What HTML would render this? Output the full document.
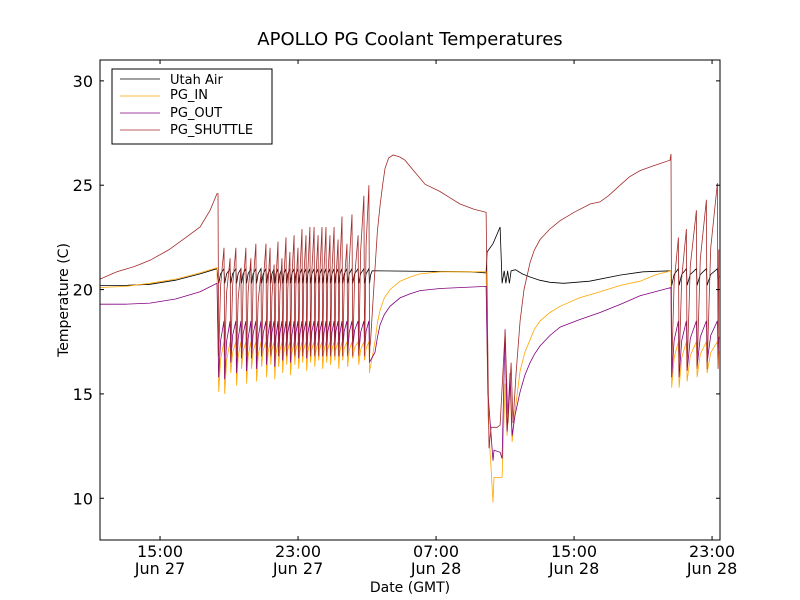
<!DOCTYPE html>
<html><head><meta charset="utf-8"><style>
body{margin:0;background:#fff;}
svg{display:block;font-family:"DejaVu Sans","Liberation Sans",sans-serif;}
</style></head><body>
<svg id="chart" width="800" height="600" viewBox="0 0 800 600" xmlns="http://www.w3.org/2000/svg">
<rect x="0" y="0" width="800" height="600" fill="#fff"/>
<text x="410" y="45" text-anchor="middle" font-size="18">APOLLO PG Coolant Temperatures</text>
<text x="410" y="592" text-anchor="middle" font-size="14">Date (GMT)</text>
<text transform="translate(68,300) rotate(-90)" text-anchor="middle" font-size="14">Temperature (C)</text>
<g id="series"></g>
<rect x="100" y="60" width="620" height="480" fill="none" stroke="#000" stroke-width="1"/>
<g id="ticks"></g>
<g>
<rect x="112" y="69" width="160" height="75" fill="#fff" stroke="#000" stroke-width="1"/>
<line x1="120" y1="79" x2="160" y2="79" stroke="#000" stroke-width="0.8"/>
<text x="170" y="84" font-size="13">Utah Air</text>
<line x1="120" y1="96" x2="160" y2="96" stroke="#FFA500" stroke-width="0.8"/>
<text x="170" y="99" font-size="13">PG_IN</text>
<line x1="120" y1="113" x2="160" y2="113" stroke="#800080" stroke-width="0.8"/>
<text x="170" y="117" font-size="13">PG_OUT</text>
<line x1="120" y1="130" x2="160" y2="130" stroke="#A52A2A" stroke-width="0.8"/>
<text x="170" y="134" font-size="13">PG_SHUTTLE</text>
</g>
</svg>
<script>
// axis ticks (hours since Jun 27 00:00 GMT)
const xTicks = [15, 23, 31, 39, 47];
const xTickTimes = ["15:00","23:00","07:00","15:00","23:00"];
const xTickDates = ["Jun 27","Jun 27","Jun 28","Jun 28","Jun 28"];
const yTicks = [10, 15, 20, 25, 30];

// Cycle region 1
const cyc1Times = [18.36,18.71,19.06,19.40,19.69,19.98,20.27,20.56,20.85,21.14,21.38,21.61,21.84,22.07,22.30,22.53,22.77,23.00,23.23,23.46,23.69,23.93,24.16,24.39,24.62,24.85,25.09,25.32,25.55,25.84,26.13,26.48,26.82,27.11];
const shuttlePeaks1 = [24.6,22.0,21.5,22.0,21.0,22.0,21.5,22.2,20.8,22.2,22.0,21.2,22.3,21.5,22.5,21.8,22.6,22.0,22.9,22.6,23.0,23.0,22.6,23.0,23.0,22.6,23.0,22.4,23.5,22.2,23.6,22.6,24.5,25.0];
const inTroughs1 = [15.1,15.0,16.0,15.4,16.2,15.5,16.2,15.6,16.3,15.8,16.4,15.7,16.3,16.0,16.4,15.9,16.4,16.2,16.5,16.1,16.5,16.3,16.6,16.2,16.5,16.4,16.6,16.2,16.6,16.3,16.7,16.4,16.6,16.0];
const outTroughs1 = [15.8,15.7,16.5,16.0,16.7,16.1,16.7,16.2,16.8,16.4,16.9,16.3,16.8,16.6,16.9,16.5,16.9,16.7,17.0,16.7,17.0,16.9,17.1,16.8,17.0,16.9,17.1,16.8,17.1,16.9,17.2,16.9,17.1,16.5];
// Cycle region 2
const cyc2Times = [44.62,45.05,45.51,46.09,46.67,47.31];
const shuttlePeaks2 = [26.5,22.5,22.9,23.8,24.3,25.1];
const inTroughs2 = [15.3,15.3,15.6,15.8,16.0,16.2];
const outTroughs2 = [15.8,15.8,16.1,16.3,16.5,16.7];

// Smooth segments
const utahA_t=[11.52,13.0,14.42,15.9,17.32,18.30], utahA_v=[20.2,20.2,20.25,20.45,20.75,21.0];
const utahB_t=[27.3,33.0,33.90,33.96,34.3,34.71,34.83,34.95,35.05,35.15,35.25,35.35,35.6,36.0,36.45,37.0,37.6,38.4,39.9,41.7,43.0,44.62];
const utahB_v=[20.9,20.85,20.8,21.8,22.2,23.0,20.3,20.9,20.3,20.9,20.3,20.9,20.95,20.75,20.6,20.45,20.35,20.3,20.4,20.7,20.85,20.9];
const inA_t=[11.52,13.0,14.42,15.9,17.32,18.30], inA_v=[20.1,20.15,20.3,20.5,20.8,21.05];
const inB_t=[27.2,27.46,27.6,27.75,28.0,28.33,28.91,29.5,30.07,31.23,33.90,34.01,34.30,34.36,34.83,35.00,35.12,35.29,35.41,35.58,35.87,36.15,36.45,36.7,37.03,37.6,38.19,39.3,40.51,41.7,42.83,43.7,44.62];
const inB_v=[16.3,17.5,18.4,19.0,19.6,20.0,20.4,20.6,20.75,20.85,20.85,14.0,9.8,11.0,11.0,15.5,13.0,15.5,12.7,14.2,16.1,17.0,17.6,18.1,18.5,18.9,19.2,19.6,19.9,20.2,20.4,20.7,20.9];
const outA_t=[11.52,13.0,14.42,15.9,17.32,18.30], outA_v=[19.3,19.3,19.35,19.55,19.9,20.3];
const outB_t=[27.2,27.46,27.6,27.75,28.0,28.33,28.91,29.5,30.07,31.23,33.90,34.01,34.30,34.36,34.71,34.83,35.00,35.12,35.29,35.41,35.58,35.87,36.15,36.45,36.7,37.03,37.6,38.19,39.3,40.51,41.7,42.83,43.7,44.62];
const outB_v=[16.6,17.0,17.7,18.3,18.8,19.2,19.6,19.8,19.95,20.05,20.15,15.0,11.8,12.3,12.2,11.9,18.1,13.2,16.0,13.0,14.0,15.1,15.9,16.5,16.9,17.3,17.8,18.2,18.55,18.9,19.3,19.7,19.9,20.1];
const shutA_t=[11.52,12.5,13.5,14.42,15.5,16.5,17.32,17.9,18.30], shutA_v=[20.5,20.85,21.1,21.4,21.9,22.5,23.0,23.8,24.6];
const shutB_t=[27.2,27.46,27.6,27.75,27.9,28.04,28.25,28.51,28.9,29.2,29.7,30.36,31.23,31.8,32.39,33.2,33.90,33.96,34.07,34.19,34.54,34.71,35.00,35.17,35.35,35.46,35.64,35.87,36.1,36.45,36.7,37.03,37.6,38.19,39.0,39.93,40.5,41.0,41.67,42.2,42.83,43.5,44.56];
const shutB_v=[17.5,21.0,22.8,24.0,25.0,25.8,26.3,26.45,26.35,26.2,25.7,25.05,24.7,24.4,24.1,23.85,23.7,20.0,12.4,13.4,13.4,13.5,18.0,13.6,16.5,13.6,16.0,18.5,20.0,21.3,21.9,22.4,22.9,23.3,23.7,24.1,24.2,24.5,25.0,25.4,25.7,25.9,26.2];

const X0=11.52,X1=47.46,Y0=8,Y1=31;
function xs(h){return 100+(h-X0)/(X1-X0)*620;}
function ys(v){return 540-(v-Y0)/(Y1-Y0)*480;}

function seg(ts,vs){return ts.map((t,i)=>[t,vs[i]]);}
function cycles(ts,pre,troughs,nextT,nextPre){
  const pts=[];
  for(let i=0;i<ts.length;i++){
    const t=ts[i];
    const p=Array.isArray(pre)?pre[i]:(i===0?null:pre);
    if(p!==null) pts.push([t,p]);
    const tr=Array.isArray(troughs)?troughs[i]:troughs;
    pts.push([t+0.04,tr]);
    const tn=i+1<ts.length?ts[i+1]:nextT;
    const pn=i+1<ts.length?(Array.isArray(pre)?pre[i+1]:pre):nextPre;
    pts.push([t+0.04+0.35*(tn-t-0.04),tr+0.65*(pn-tr)]);
  }
  return pts;
}
function fill(n,v){return new Array(n).fill(v);}

const n1=cyc1Times.length,n2=cyc2Times.length;
const series=[
 {name:'utah-air',color:'#000',pts:[].concat(seg(utahA_t,utahA_v),cycles(cyc1Times,21.0,fill(n1,20.3),27.3,20.9),seg(utahB_t,utahB_v),cycles(cyc2Times,21.0,fill(n2,20.2),47.46,20.9))},
 {name:'pg-in',color:'#FFA500',pts:[].concat(seg(inA_t,inA_v),cycles(cyc1Times,17.5,inTroughs1,27.2,16.3),seg(inB_t,inB_v),cycles(cyc2Times,17.5,inTroughs2,47.46,17.5))},
 {name:'pg-out',color:'#800080',pts:[].concat(seg(outA_t,outA_v),cycles(cyc1Times,18.5,outTroughs1,27.2,16.6),seg(outB_t,outB_v),cycles(cyc2Times,18.5,outTroughs2,47.46,18.3))},
 {name:'pg-shuttle',color:'#A52A2A',pts:[].concat(seg(shutA_t,shutA_v),cycles(cyc1Times,shuttlePeaks1,fill(n1,16.8),27.2,17.5),seg(shutB_t,shutB_v),cycles(cyc2Times,shuttlePeaks2,fill(n2,16.2),47.46,25.0))}
];
const NS='http://www.w3.org/2000/svg';
const g=document.getElementById('series');
series.forEach(s=>{
  const p=document.createElementNS(NS,'polyline');
  p.setAttribute('points',s.pts.filter(q=>q[0]<=X1).map(q=>xs(q[0]).toFixed(1)+','+ys(q[1]).toFixed(1)).join(' '));
  p.setAttribute('fill','none');p.setAttribute('stroke',s.color);p.setAttribute('stroke-width','0.8');
  
  
  g.appendChild(p);
});
const tg=document.getElementById('ticks');
function add(tag,attrs,txt){const e=document.createElementNS(NS,tag);for(const k in attrs)e.setAttribute(k,attrs[k]);if(txt)e.textContent=txt;tg.appendChild(e);return e;}
yTicks.forEach(v=>{
  const y=ys(v);
  add('line',{x1:100,y1:y,x2:104,y2:y,stroke:'#000'});
  add('line',{x1:716,y1:y,x2:720,y2:y,stroke:'#000'});
  const t=add('text',{x:93,y:y+6,'text-anchor':'end','font-size':16},String(v));
  
  
});
xTicks.forEach((h,i)=>{
  const x=xs(h);
  add('line',{x1:x,y1:540,x2:x,y2:536,stroke:'#000'});
  add('line',{x1:x,y1:60,x2:x,y2:64,stroke:'#000'});
  const t=add('text',{x:x,y:557,'text-anchor':'middle','font-size':16},xTickTimes[i]);
  
  
  const d=add('text',{x:x,y:574,'text-anchor':'middle','font-size':16},xTickDates[i]);
  
  
});
</script>
</body></html>
